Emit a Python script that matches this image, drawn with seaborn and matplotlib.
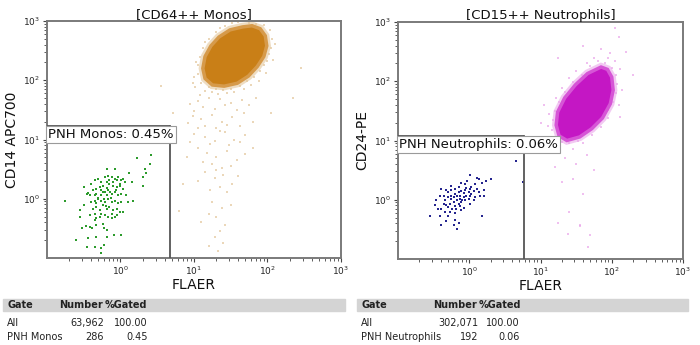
import numpy as np
import pandas as pd
import matplotlib
matplotlib.use("Agg")
import matplotlib.pyplot as plt
import seaborn as sns
from matplotlib.ticker import LogLocator, FixedLocator, FixedFormatter, NullFormatter
from matplotlib.patches import Rectangle

# ---------------- data (log10 intensities) ----------------
titles = ["[CD64++ Monos]", "[CD15++ Neutrophils]"]
y_labels = ["CD14 APC700", "CD24-PE"]
x_label = "FLAER"
gate_labels = ["PNH Monos: 0.45%", "PNH Neutrophils: 0.06%"]
gate_x = [4.7, 5.8]
gate_y = [17.0, 11.7]

# monocytes: PNH (FLAER-negative) population
mono_pnh_flaer = [0.41, 0.22, 0.40, 0.33, 0.35, 0.31, 0.30, 0.11, -0.76, -0.18, -0.08, 0.03, 0.16,
                  0.10, 0.17, 0.04, 0.01, -0.09, -0.19, -0.33, -0.44, -0.60, -0.45, -0.35, -0.27,
                  -0.22, -0.26, -0.53, -0.47, -0.41, -0.39, -0.22, -0.18, -0.55, -0.55, -0.49, -0.46,
                  -0.50, -0.42, -0.35, -0.28, -0.12, -0.05, -0.01,
                  -0.40, -0.35, -0.31, -0.26, -0.21, -0.17, -0.12, -0.08, -0.03, 0.01, 0.06,
                  -0.37, -0.33, -0.28, -0.24, -0.19, -0.15, -0.10, -0.05, -0.01, 0.04,
                  -0.42, -0.35, -0.33, -0.26, -0.21, -0.17, -0.12, -0.08, -0.03, 0.01, 0.08,
                  -0.40, -0.35, -0.33, -0.26, -0.21, -0.17, -0.12, -0.08, -0.03, 0.01,
                  -0.37, -0.33, -0.28, -0.24, -0.19, -0.15, -0.10, -0.05,
                  -0.35, -0.33, -0.26, -0.21, -0.17, -0.12, -0.08, -0.33, -0.24,
                  -0.15, -0.10, -0.05, -0.01, -0.19, -0.24, -0.18, -0.13, -0.22, -0.27, -0.31,
                  -0.14, -0.06, -0.20, -0.30, -0.44]
mono_pnh_cd14 = [0.74, 0.68, 0.58, 0.51, 0.43, 0.36, 0.21, 0.44, -0.04, 0.51, 0.51, 0.34, 0.29,
                 -0.06, -0.04, -0.23, -0.61, -0.62, -0.64, -0.64, -0.67, -0.69, -0.81, -0.81, -0.83,
                 -0.78, -0.92, -0.49, -0.46, -0.48, -0.50, -0.50, -0.52, -0.19, -0.31, 0.19, 0.08,
                 -0.11, -0.28, -0.36, -0.31, -0.33, -0.28, -0.22,
                 0.25, 0.31, 0.33, 0.28, 0.36, 0.39, 0.36, 0.33, 0.36, 0.31, 0.28,
                 0.14, 0.17, 0.19, 0.22, 0.18, 0.25, 0.22, 0.19, 0.21, 0.17,
                 0.06, 0.06, 0.08, 0.06, 0.11, 0.14, 0.08, 0.11, 0.06, 0.08, 0.06,
                 -0.06, -0.03, -0.08, -0.03, -0.06, 0.00, -0.06, -0.03, -0.08, -0.06,
                 -0.17, -0.14, -0.19, -0.11, -0.17, -0.14, -0.19, -0.17,
                 -0.25, -0.33, -0.25, -0.28, -0.31, -0.25, -0.31, -0.44, -0.42,
                 0.31, 0.28, 0.31, 0.25, 0.28, 0.11, 0.06, 0.01, 0.00, 0.14, 0.00,
                 0.12, 0.15, -0.12, 0.02, 0.10]

# monocytes: dense normal population (outline of the solid core)
mono_core_flaer = [1.66, 1.79, 1.90, 1.97, 1.99, 1.95, 1.86, 1.74, 1.59, 1.41, 1.25, 1.15, 1.12, 1.15, 1.23, 1.34, 1.49]
mono_core_cd14 = [2.90, 2.92, 2.87, 2.75, 2.58, 2.40, 2.23, 2.07, 1.95, 1.90, 1.92, 2.03, 2.20, 2.40, 2.58, 2.73, 2.85]

# monocytes: sparse events around / below the core
mono_halo_flaer = [1.60, 1.75, 1.85, 1.95, 2.03, 2.06, 2.05, 2.02, 2.00, 1.95, 1.90, 1.82, 1.72, 1.62, 1.50,
                   1.40, 1.30, 1.20, 1.10, 1.06, 1.05, 1.08, 1.12, 1.20, 1.30, 1.42, 1.52, 2.10, 2.08, 1.00,
                   1.03, 1.15, 1.35, 1.98, 1.88, 1.78, 1.68, 1.55, 1.45, 1.33, 1.25, 1.15, 1.08, 1.02, 0.98,
                   1.05, 1.20, 1.35, 1.50, 1.65, 1.75, 1.12, 1.28, 1.42, 0.95, 1.58, 1.85, 1.00,
                   0.98, 1.10, 1.25, 1.38, 1.52, 1.68, 1.80, 1.15, 1.30, 1.45, 1.62, 0.92, 1.05, 2.05,
                   1.00, 1.15, 1.28, 1.42, 1.55, 1.70, 1.22, 1.35, 1.48, 0.95, 1.62,
                   1.05, 1.18, 1.30, 1.45, 1.58, 1.25, 1.38, 1.12, 1.70, 0.90, 1.50, 1.80,
                   1.15, 1.28, 1.40, 1.52, 1.22, 1.35, 1.60, 1.05, 1.45, 0.85, 1.30,
                   1.25, 1.38, 1.30, 1.42, 1.20, 1.50, 0.80, 1.10, 1.35,
                   1.28, 1.40, 1.20, 1.32, 0.55, 2.35, 2.45, 0.72]
mono_halo_cd14 = [2.98, 2.97, 2.95, 2.93, 2.85, 2.70, 2.55, 2.45, 2.33, 2.25, 2.15, 2.05, 1.98, 1.90, 1.85,
                  1.83, 1.85, 1.88, 1.95, 2.10, 2.25, 2.40, 2.55, 2.70, 2.82, 2.92, 2.96, 2.62, 2.35, 2.05,
                  2.30, 2.65, 2.88, 2.12, 1.98, 1.92, 1.85, 1.80, 1.78, 1.76, 1.80, 1.82, 1.75, 1.88, 1.95,
                  1.65, 1.70, 1.68, 1.62, 1.66, 1.58, 1.55, 1.52, 1.58, 1.60, 1.50, 1.70, 1.48,
                  1.40, 1.35, 1.42, 1.30, 1.38, 1.45, 1.30, 1.22, 1.20, 1.25, 1.22, 1.28, 1.20, 1.45,
                  1.10, 1.05, 0.98, 1.12, 1.00, 1.08, 0.92, 1.15, 0.90, 0.95, 0.95,
                  0.85, 0.78, 0.70, 0.80, 0.65, 0.58, 0.52, 0.62, 0.75, 0.70, 0.55, 0.85,
                  0.45, 0.35, 0.40, 0.25, 0.15, 0.20, 0.38, 0.30, 0.12, 0.25, 0.48,
                  -0.05, -0.15, -0.30, -0.45, -0.25, -0.10, -0.20, -0.40, -0.55,
                  -0.65, -0.75, -0.80, -0.88, 1.90, 1.70, 2.20, 1.45]

# neutrophils: PNH (FLAER-negative) population
neut_pnh_flaer = [0.30, 0.23, 0.13, 0.11, 0.01, -0.03, -0.12, 0.18, 0.20, 0.21, 0.08, 0.03, -0.06, -0.25,
                  -0.39, -0.32, -0.41, -0.46, -0.48, -0.44, -0.55, -0.41, -0.30, -0.20, -0.11, -0.07,
                  0.01, 0.06, 0.08, -0.32, -0.20, -0.15, -0.39, -0.22, -0.17, 0.18, 0.75, 0.66,
                  -0.30, -0.25, -0.20, -0.15, -0.11, -0.06, -0.01, 0.03, -0.04, -0.08, -0.13, -0.17,
                  -0.22, -0.27, -0.32, -0.34, -0.35, -0.15, -0.11, -0.06, -0.01, 0.01, 0.06, -0.17,
                  -0.21, -0.26, -0.30, -0.24, -0.18, -0.13, -0.08, -0.04, 0.01, 0.11, 0.13, 0.15,
                  -0.25, -0.20, -0.14, -0.30, -0.36, -0.39, -0.34, -0.27, -0.20, -0.13, -0.10]
neut_pnh_cd24 = [0.35, 0.31, 0.35, 0.37, 0.42, 0.31, 0.29, 0.29, 0.17, 0.06, 0.27, 0.22, 0.26, 0.24,
                 0.18, 0.17, 0.07, 0.00, -0.09, -0.15, -0.27, -0.28, -0.28, -0.23, -0.18, -0.14,
                 -0.07, -0.01, 0.04, -0.36, -0.34, -0.39, -0.43, -0.43, -0.50, -0.28, 0.30, 0.65,
                 0.04, 0.07, 0.10, 0.13, 0.15, 0.17, 0.13, 0.10, 0.07, 0.04, 0.01, -0.01,
                 -0.04, -0.07, -0.09, -0.01, 0.07, -0.07, -0.04, -0.01, 0.02, 0.07, 0.15, 0.07,
                 0.04, 0.01, -0.12, -0.15, -0.15, -0.11, 0.11, 0.20, 0.18, 0.18, 0.13, 0.07,
                 0.16, 0.18, 0.21, 0.13, -0.07, -0.15, -0.20, -0.20, -0.10, 0.07, 0.00]

# neutrophils: dense normal population (outline of the solid core)
neut_core_flaer = [1.85, 1.94, 2.00, 2.02, 1.98, 1.87, 1.72, 1.55, 1.37, 1.26, 1.22, 1.24, 1.34, 1.49, 1.66]
neut_core_cd24 = [2.24, 2.20, 2.07, 1.85, 1.62, 1.38, 1.20, 1.06, 1.00, 1.08, 1.26, 1.48, 1.72, 1.94, 2.13]

# neutrophils: sparse events around the core
neut_halo_flaer = [1.80, 1.90, 2.00, 2.06, 2.08, 2.06, 2.02, 1.95, 1.88, 1.78, 1.65, 1.52, 1.40, 1.30, 1.20,
                   1.16, 1.17, 1.20, 1.26, 1.35, 1.45, 1.58, 1.70, 1.75, 1.95, 2.12, 2.15, 1.98, 1.85, 2.05,
                   1.65, 1.50, 1.40, 1.30, 1.22, 1.12, 1.10, 1.15, 1.28, 1.45, 1.60, 1.72, 1.85, 1.95, 2.10,
                   2.12, 2.20, 2.30, 1.60, 2.10, 1.05, 1.00, 0.95, 1.35, 1.50, 1.65, 1.20, 1.10, 1.45, 1.75,
                   1.30, 1.60, 1.40, 1.70, 1.55, 2.05, 1.25, 1.24, 1.38, 1.56, 1.66]
neut_halo_cd24 = [2.35, 2.30, 2.22, 2.10, 1.95, 1.80, 1.65, 1.52, 1.40, 1.28, 1.15, 1.00, 0.95, 0.98, 1.05,
                  1.18, 1.35, 1.50, 1.65, 1.82, 1.98, 2.10, 2.25, 2.40, 2.40, 2.20, 1.85, 2.48, 2.55, 2.35,
                  2.30, 2.18, 2.05, 1.88, 1.72, 1.45, 1.25, 0.95, 0.88, 0.85, 0.95, 1.10, 1.22, 1.38, 1.60,
                  1.40, 2.50, 2.10, 2.60, 2.75, 1.60, 1.30, 1.05, 0.70, 0.60, 0.75, 0.55, 0.80, 0.35, 0.50,
                  0.30, 0.10, -0.20, -0.60, -0.45, 2.90, 2.40, -0.40, -0.58, -0.43, -0.80]

# summary tables
table_header = ["Gate", "Number", "%Gated"]
mono_gates = ["All", "PNH Monos"]
mono_numbers = ["63,962", "286"]
mono_pct = ["100.00", "0.45"]
neut_gates = ["All", "PNH Neutrophils"]
neut_numbers = ["302,071", "192"]
neut_pct = ["100.00", "0.06"]

# ---------------- styling ----------------
sns.set_style("white")
plt.rcParams["font.family"] = ["DejaVu Sans"]

panel_colors = [
    dict(core="#c97f17", fringe="#d69a4a", halo="#e3c79c", pnh="#2c9b2c"),
    dict(core="#c417c4", fringe="#d655d6", halo="#eaa6ea", pnh="#25258f"),
]

fig = plt.figure(figsize=(7.0, 3.45), dpi=100)
ax_pos = [[47 / 700, 1 - 258 / 345, 294 / 700, 237 / 345],
          [398 / 700, 1 - 259 / 345, 285 / 700, 237 / 345]]

panels = [
    (mono_core_flaer, mono_core_cd14, mono_halo_flaer, mono_halo_cd14, mono_pnh_flaer, mono_pnh_cd14),
    (neut_core_flaer, neut_core_cd24, neut_halo_flaer, neut_halo_cd24, neut_pnh_flaer, neut_pnh_cd24),
]

spine_col = "#7a7a7a"
gate_col = "#555555"
tick_labels = [r"$10^{0}$", r"$10^{1}$", r"$10^{2}$", r"$10^{3}$"]
major = [1, 10, 100, 1000]

for i, (cfx, cfy, hx, hy, px, py) in enumerate(panels):
    ax = fig.add_axes(ax_pos[i])
    ax.set_xscale("log")
    ax.set_yscale("log")
    ax.set_xlim(0.1, 1000)
    ax.set_ylim(0.1, 1000)
    col = panel_colors[i]

    halo = pd.DataFrame({"x": 10 ** np.array(hx), "y": 10 ** np.array(hy)})
    sns.scatterplot(data=halo, x="x", y="y", ax=ax, color=col["halo"], s=1.0, marker="s",
                    linewidth=0, alpha=0.7, zorder=1, legend=False)
    # solid dense core with a fuzzy lighter fringe
    ax.fill(10 ** np.array(cfx), 10 ** np.array(cfy), facecolor="none", lw=6.0,
            edgecolor=col["halo"], alpha=0.6, zorder=2)
    ax.fill(10 ** np.array(cfx), 10 ** np.array(cfy), color=col["core"], lw=2.5,
            edgecolor=col["fringe"], zorder=2)
    pnh = pd.DataFrame({"x": 10 ** np.array(px), "y": 10 ** np.array(py)})
    sns.scatterplot(data=pnh, x="x", y="y", ax=ax, color=col["pnh"], s=2.5, marker="s",
                    linewidth=0, zorder=3, legend=False)

    # gate
    ax.plot([gate_x[i], gate_x[i]], [0.1, gate_y[i]], color=gate_col, lw=1.3, zorder=4)
    ax.plot([0.1, gate_x[i]], [gate_y[i], gate_y[i]], color=gate_col, lw=1.3, zorder=4)
    ax.text(0.104, gate_y[i] * 0.93, gate_labels[i], ha="left", va="top", fontsize=9.5,
            color="#111111", zorder=5,
            bbox=dict(boxstyle="square,pad=0.15", fc="white", ec="#9a9a9a", lw=0.8))

    # ticks
    ax.xaxis.set_major_locator(FixedLocator(major))
    ax.xaxis.set_major_formatter(FixedFormatter(tick_labels))
    ax.yaxis.set_major_locator(FixedLocator(major))
    ax.yaxis.set_major_formatter(FixedFormatter(tick_labels))
    ax.xaxis.set_minor_locator(LogLocator(base=10, subs=np.arange(2, 10)))
    ax.yaxis.set_minor_locator(LogLocator(base=10, subs=np.arange(2, 10)))
    ax.xaxis.set_minor_formatter(NullFormatter())
    ax.yaxis.set_minor_formatter(NullFormatter())
    ax.tick_params(which="major", direction="out", length=3, width=0.8, color="#444444",
                   labelsize=6.5, pad=2, bottom=True, left=True)
    ax.tick_params(which="minor", direction="out", length=2, width=0.6, color="#444444",
                   bottom=True, left=True)
    for s in ax.spines.values():
        s.set_visible(True)
        s.set_color(spine_col)
        s.set_linewidth(1.4)

    ax.set_title(titles[i], fontsize=9.5, pad=1.5, color="#111111")
    ax.set_xlabel(x_label, fontsize=10, labelpad=0.5, color="#111111")
    ax.set_ylabel(y_labels[i], fontsize=10, labelpad=3, color="#111111")

# ---------------- tables ----------------
def draw_table(x0, x1, col_num, col_pct, gates, numbers, pct):
    fig.patches.append(Rectangle((x0 / 700, 1 - 311 / 345), (x1 - x0) / 700, 12 / 345,
                                 transform=fig.transFigure, color="#d4d4d4", zorder=0))
    ytop = 1 - 305 / 345
    fs = 7
    fig.text((x0 + 4) / 700, ytop, table_header[0], fontsize=fs, fontweight="bold",
             va="center", ha="left", color="#222222")
    fig.text((col_num - 1) / 700, ytop, table_header[1], fontsize=fs, fontweight="bold",
             va="center", ha="right", color="#222222")
    fig.text((col_num + 1) / 700, ytop, table_header[2], fontsize=fs, fontweight="bold",
             va="center", ha="left", color="#222222")
    for r, (g, n, p) in enumerate(zip(gates, numbers, pct)):
        yy = 1 - (323 + 14 * r) / 345
        fig.text((x0 + 4) / 700, yy, g, fontsize=fs, va="center", ha="left", color="#222222")
        fig.text(col_num / 700, yy, n, fontsize=fs, va="center", ha="right", color="#222222")
        fig.text(col_pct / 700, yy, p, fontsize=fs, va="center", ha="right", color="#222222")

draw_table(3, 345, 104, 148, mono_gates, mono_numbers, mono_pct)
draw_table(357, 688, 478, 520, neut_gates, neut_numbers, neut_pct)

fig.savefig("out.png", dpi=100, facecolor="white")
